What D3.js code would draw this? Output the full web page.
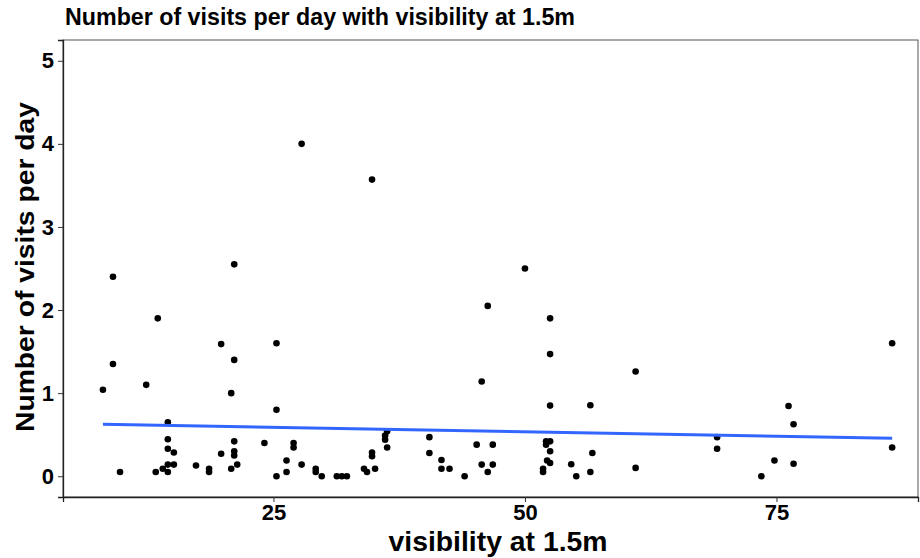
<!DOCTYPE html>
<html><head><meta charset="utf-8">
<script src="https://cdn.jsdelivr.net/npm/d3@7"></script>
<style>body{margin:0;background:#fff}svg{display:block}text{font-family:"Liberation Sans",Arial,sans-serif;font-weight:bold}</style>
</head><body>
<script>
const visibility = [8.05,9.05,9.05,9.75,12.35,13.3,13.5,14.0,14.5,14.5,14.5,15.1,14.5,15.1,14.5,17.3,18.6,18.6,19.8,19.8,20.8,21.1,21.1,20.8,21.1,21.1,21.4,21.1,24.1,25.3,25.3,25.3,26.3,26.3,27.0,27.0,27.8,27.8,29.2,29.2,29.8,31.3,31.8,32.3,34.0,34.3,34.8,34.8,35.1,34.8,36.1,36.1,36.3,36.3,40.5,40.5,41.7,41.7,42.5,44.0,45.2,45.7,45.7,46.3,46.3,46.8,46.8,50.0,51.8,51.8,52.1,52.1,52.5,52.5,52.5,52.2,52.5,52.5,52.5,54.6,55.1,56.5,56.7,56.5,61.0,61.0,69.1,69.1,73.5,74.8,76.2,76.7,76.7,86.5,86.5];
const visits = [1.04,2.40,1.35,0.05,1.10,0.05,1.90,0.09,0.65,0.445,0.33,0.285,0.14,0.14,0.05,0.13,0.09,0.05,0.27,1.59,1.00,2.55,1.40,0.09,0.30,0.25,0.14,0.42,0.40,0.80,0.0,1.60,0.19,0.05,0.40,0.345,0.14,4.00,0.09,0.05,0.0,0.0,0.0,0.0,0.09,0.05,0.285,0.24,0.09,3.57,0.49,0.44,0.54,0.345,0.47,0.28,0.196,0.09,0.09,0.0,0.38,1.14,0.14,0.05,2.05,0.38,0.14,2.50,0.09,0.05,0.42,0.38,0.85,1.90,1.47,0.19,0.16,0.30,0.42,0.145,0.0,0.855,0.28,0.05,1.26,0.10,0.47,0.33,0.0,0.19,0.845,0.625,0.15,0.345,1.60];
const fitX = [8.05, 86.5];
const fitY = [0.625, 0.457];
const xTicks = [25, 50, 75];
const yTicks = [0, 1, 2, 3, 4, 5];
const titleText = "Number of visits per day with visibility at 1.5m";
const xLabel = "visibility at 1.5m";
const yLabel = "Number of visits per day";

const W = 920, H = 558;
const m = {l:63, r:2, t:40, b:61};
const svg = d3.select("body").append("svg").attr("width", W).attr("height", H);
const x = d3.scaleLinear().domain([4.08, 89.07]).range([m.l, W - m.r]);
const y = d3.scaleLinear().domain([-0.25, 5.25]).range([H - m.b, m.t]);

svg.append("rect").attr("x", m.l).attr("y", m.t).attr("width", W - m.r - m.l).attr("height", H - m.b - m.t)
  .attr("fill", "none").attr("stroke", "#555").attr("stroke-width", 1);

const xa = svg.append("g").attr("transform", `translate(0,${H - m.b})`)
  .call(d3.axisBottom(x).tickValues(xTicks).tickSize(5).tickPadding(2).tickFormat(d3.format("d")));
const ya = svg.append("g").attr("transform", `translate(${m.l},0)`)
  .call(d3.axisLeft(y).tickValues(yTicks).tickSize(5).tickPadding(4).tickFormat(d3.format("d")));
[xa, ya].forEach(a => {
  a.select(".domain").attr("stroke", "#222").attr("stroke-width", 1.3);
  a.selectAll(".tick line").attr("stroke", "#333");
  a.selectAll(".tick text").attr("fill", "#000").style("font-size", "22px").style("font-weight", "bold");
});

svg.append("g").selectAll("circle").data(visibility).join("circle")
  .attr("cx", d => x(d)).attr("cy", (d, i) => y(visits[i])).attr("r", 3.3).attr("fill", "#000");

svg.append("path").datum(fitX.map((d, i) => [d, fitY[i]]))
  .attr("d", d3.line().x(d => x(d[0])).y(d => y(d[1])))
  .attr("stroke", "#3366FF").attr("stroke-width", 3).attr("fill", "none");

svg.append("text").attr("x", 65).attr("y", 25).style("font-size", "23px")
  .attr("textLength", 510).attr("lengthAdjust", "spacingAndGlyphs").text(titleText);
svg.append("text").attr("x", 498).attr("y", 551).attr("text-anchor", "middle")
  .style("font-size", "28px").attr("textLength", 219).attr("lengthAdjust", "spacingAndGlyphs").text(xLabel);
svg.append("text").attr("transform", `translate(34,267) rotate(-90)`).attr("text-anchor", "middle")
  .style("font-size", "25px").attr("textLength", 330).attr("lengthAdjust", "spacingAndGlyphs").text(yLabel);
</script>
</body></html>
